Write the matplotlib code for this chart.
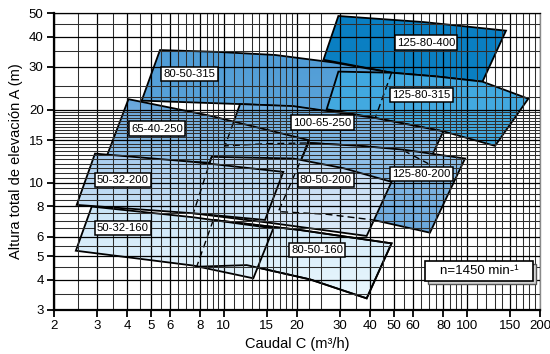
import numpy as np
import matplotlib
matplotlib.use("Agg")
import matplotlib.pyplot as plt
from matplotlib.patches import Polygon, Rectangle
from matplotlib.colors import LinearSegmentedColormap
from matplotlib.ticker import FixedLocator, FixedFormatter, NullFormatter

plt.rcParams["font.family"] = ["Liberation Sans", "DejaVu Sans"]

# ---- pump working ranges: flow Q (m3/h) and head H (m) along each outline ----
q_125_80_400 = [29.6, 66.2, 144.9, 116.0, 75.1, 49.0, 25.7]
h_125_80_400 = [48.6, 45.9, 42.3, 26.1, 27.4, 28.4, 32.1]

q_80_50_315 = [5.46, 9.34, 16.24, 28.2, 49.0, 41.9, 19.3, 11.66, 4.59]
h_80_50_315 = [35.2, 34.6, 33.6, 31.3, 28.4, 18.4, 20.6, 21.1, 21.8]

q_125_80_315 = [29.6, 49.0, 75.1, 115.8, 179.0, 130.6, 80.0, 41.9, 26.5]
h_125_80_315 = [28.7, 28.4, 27.4, 26.1, 22.2, 14.2, 16.3, 18.5, 20.1]

q_100_65_250 = [11.66, 19.3, 41.9, 80.0, 69.4, 54.8, 36.3, 22.3, 15.0, 10.11]
h_100_65_250 = [21.1, 20.7, 18.5, 16.3, 12.0, 13.6, 14.2, 14.6, 14.5, 14.2]

q_65_40_250 = [4.05, 8.77, 22.3, 20.25, 12.42, 7.49, 3.29]
h_65_40_250 = [22.1, 18.9, 15.0, 11.4, 11.9, 12.2, 12.8]

q_125_80_200 = [22.3, 36.3, 54.8, 98.3, 70.5, 41.2, 26.5, 16.76]
h_125_80_200 = [14.6, 14.2, 13.7, 12.6, 6.24, 7.04, 7.43, 7.62]

q_80_50_200 = [8.91, 19.3, 31.0, 49.0, 38.7, 16.0, 7.49]
h_80_50_200 = [12.8, 12.6, 11.5, 10.1, 6.05, 6.82, 7.50]

q_50_32_200 = [2.95, 7.49, 17.57, 14.77, 7.49, 2.48]
h_50_32_200 = [13.2, 12.2, 11.1, 7.04, 7.50, 8.12]

q_80_50_160 = [9.05, 20.6, 49.0, 38.7, 22.6, 12.42, 7.73]
h_80_50_160 = [7.04, 6.40, 5.64, 3.35, 4.01, 4.59, 4.52]

q_50_32_160 = [2.86, 7.49, 15.98, 13.22, 7.49, 2.46]
h_50_32_160 = [7.99, 7.22, 6.50, 4.05, 4.57, 5.26]

# ---- hidden (dashed) boundaries ----
q_dash_80_50_315 = [49.0, 41.9]
h_dash_80_50_315 = [28.4, 18.4]
q_dash_100_65_250_a = [10.97, 10.11, 15.0, 22.3]
h_dash_100_65_250_a = [17.8, 14.2, 14.5, 14.6]
q_dash_100_65_250_b = [54.8, 69.4]
h_dash_100_65_250_b = [13.6, 12.0]
q_dash_125_80_200 = [22.3, 16.76, 26.5, 41.2]
h_dash_125_80_200 = [14.6, 7.62, 7.43, 7.04]
q_dash_80_50_200 = [8.91, 7.49]
h_dash_80_50_200 = [12.8, 7.50]
q_dash_80_50_160 = [9.05, 7.73]
h_dash_80_50_160 = [7.04, 4.52]

# ---- model names and label anchor points ----
models = ["125-80-400", "80-50-315", "125-80-315", "100-65-250", "65-40-250",
          "125-80-200", "80-50-200", "50-32-200", "80-50-160", "50-32-160"]
label_q = [67.9, 7.21, 65.2, 25.5, 5.31, 65.2, 26.3, 3.84, 24.2, 3.84]
label_h = [37.8, 28.1, 23.0, 17.7, 16.7, 10.9, 10.3, 10.3, 5.30, 6.51]

x_ticks = [2, 3, 4, 5, 6, 8, 10, 15, 20, 30, 40, 50, 60, 80, 100, 150, 200]
y_ticks = [3, 4, 5, 6, 8, 10, 15, 20, 30, 40, 50]

x_grid = ([2 + 0.5 * i for i in range(17)] + list(range(11, 21)) + [22.5]
          + list(range(25, 101, 5)) + list(range(110, 201, 10)))
y_grid = [3 + 0.5 * i for i in range(35)] + [22.5, 25, 30, 35, 40, 45, 50]

outlines = {
    "125-80-400": (q_125_80_400, h_125_80_400, "#0a80c4", "#0a7fc2"),
    "80-50-315": (q_80_50_315, h_80_50_315, "#4f9cd6", "#5aa3da"),
    "125-80-315": (q_125_80_315, h_125_80_315, "#3fa8e0", "#46abe0"),
    "100-65-250": (q_100_65_250, h_100_65_250, "#6eade0", "#86bbe6"),
    "65-40-250": (q_65_40_250, h_65_40_250, "#64a4db", "#97c5ea"),
    "125-80-200": (q_125_80_200, h_125_80_200, "#9dc9ed", "#6aa7dc"),
    "80-50-200": (q_80_50_200, h_80_50_200, "#bbd7f2", "#dbe9f8"),
    "50-32-200": (q_50_32_200, h_50_32_200, "#a6cbee", "#cbe3f6"),
    "80-50-160": (q_80_50_160, h_80_50_160, "#cfe8f8", "#e8f6fd"),
    "50-32-160": (q_50_32_160, h_50_32_160, "#c9e5f7", "#e2f2fc"),
}

fig = plt.figure(figsize=(5.5, 3.54), dpi=100)
ax = fig.add_axes([54 / 550, 44 / 354, 486 / 550, 297 / 354])
ax.set_xscale("log")
ax.set_yscale("log")

for i, name in enumerate(models):
    q, h, c_top, c_bot = outlines[name]
    z = 1.0 + 0.09 * i
    poly = Polygon(np.column_stack([q, h]), closed=True, fc="none", ec="black",
                   lw=1.3, zorder=z + 0.04, joinstyle="miter")
    ax.add_patch(poly)
    cmap = LinearSegmentedColormap.from_list(name, [c_top, c_bot])
    im = ax.imshow(np.linspace(0, 1, 128)[:, None], cmap=cmap,
                   extent=[min(q), max(q), min(h), max(h)], origin="upper",
                   aspect="auto", interpolation="bilinear", zorder=z)
    im.set_clip_path(poly)

# outline of 80-50-160 stays visible over 50-32-160
ax.plot(q_80_50_160, h_80_50_160, color="black", lw=1.3, zorder=1.97,
        solid_joinstyle="miter")

dash_style = dict(color="black", lw=1.0, ls=(0, (5, 3)), zorder=1.98)
for dq, dh in [(q_dash_80_50_315, h_dash_80_50_315),
               (q_dash_100_65_250_a, h_dash_100_65_250_a),
               (q_dash_100_65_250_b, h_dash_100_65_250_b),
               (q_dash_125_80_200, h_dash_125_80_200),
               (q_dash_80_50_200, h_dash_80_50_200),
               (q_dash_80_50_160, h_dash_80_50_160)]:
    ax.plot(dq, dh, **dash_style)

for name, lq, lh in zip(models, label_q, label_h):
    ax.text(lq, lh, name, ha="center", va="center", fontsize=8.2, zorder=5,
            bbox=dict(boxstyle="square,pad=0.2", fc="white", ec="black", lw=1.1))

# speed note with offset shadow
ax.add_patch(Rectangle((0.769, 0.087), 0.223, 0.067, transform=ax.transAxes,
                       fc="#d4d4d4", ec="#555555", lw=1.0, zorder=4, clip_on=False))
ax.add_patch(Rectangle((0.763, 0.098), 0.223, 0.067, transform=ax.transAxes,
                       fc="white", ec="black", lw=1.2, zorder=4.1, clip_on=False))
ax.text(0.8745, 0.1315, "n=1450 min-¹", transform=ax.transAxes, ha="center",
        va="center", fontsize=9.5, zorder=4.2)

ax.set_xlim(2, 200)
ax.set_ylim(3, 50)

ax.xaxis.set_major_locator(FixedLocator(x_ticks))
ax.xaxis.set_major_formatter(FixedFormatter([str(v) for v in x_ticks]))
ax.xaxis.set_minor_locator(FixedLocator(x_grid))
ax.xaxis.set_minor_formatter(NullFormatter())
ax.yaxis.set_major_locator(FixedLocator(y_ticks))
ax.yaxis.set_major_formatter(FixedFormatter([str(v) for v in y_ticks]))
ax.yaxis.set_minor_locator(FixedLocator(y_grid))
ax.yaxis.set_minor_formatter(NullFormatter())

ax.set_axisbelow(False)
ax.grid(which="major", color="black", lw=0.9)
ax.grid(which="minor", color="#2e2e2e", lw=0.75)
ax.tick_params(which="major", direction="out", length=5, width=1.3, labelsize=9.5,
               pad=2.5, colors="black")
ax.tick_params(which="minor", length=0)

for side in ["left", "bottom"]:
    ax.spines[side].set_linewidth(1.6)
    ax.spines[side].set_zorder(6)
ax.spines["top"].set_linewidth(0.9)
ax.spines["right"].set_linewidth(1.0)
ax.spines["right"].set_color("#8a8a8a")

ax.set_xlabel("Caudal C (m³/h)", fontsize=10.5, labelpad=3)
ax.set_ylabel("Altura total de elevación A (m)", fontsize=10.5, labelpad=4)

fig.savefig("out.png", dpi=100)
